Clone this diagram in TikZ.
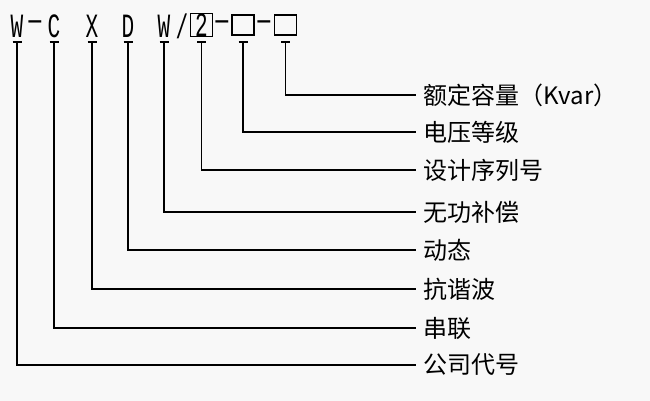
\documentclass[tikz,border=0pt]{standalone}
\usepackage{fontspec}
\newfontfamily\cjk{Noto Sans CJK SC}
\newfontfamily\codefont{Liberation Mono}[FakeStretch=0.62]
\definecolor{sfondo}{HTML}{F8F8F8}

\begin{document}
\begin{tikzpicture}[x=1pt, y=-1pt, line width=1.4pt,
    codice/.style={inner sep=0pt, font=\codefont\fontsize{34}{34}\selectfont},
    casella/.style={draw, line width=1.4pt, minimum width=22pt, minimum height=20pt, inner sep=0pt},
    voce/.style={anchor=west, inner sep=0pt, font=\cjk\fontsize{24}{24}\selectfont}]
        % Sfondo
        \fill[sfondo] (0,0) rectangle (650,401);

        % Codice del modello
        \node[codice] (cW)  at (17,26)  {W};
        \node[codice] (d1)  at (35,26)  {—};
        \node[codice] (cC)  at (54,26)  {C};
        \node[codice] (cX)  at (92,26)  {X};
        \node[codice] (cD)  at (128,26) {D};
        \node[codice] (cW2) at (164,26) {W};
        \node[codice] (sl)  at (182,26) {/};
        \node[casella, codice] (b1) at (201.5,25) {2};
        \node[codice] (d2)  at (222,26) {—};
        \node[casella] (b2) at (243,25) {};
        \node[codice] (d3)  at (264,26) {—};
        \node[casella] (b3) at (285.5,25) {};

        % Voci
        \foreach \nome/\y/\testo in {v8/95/额定容量（Kvar）, v7/132/电压等级, v6/170/设计序列号,
                v5/212/无功补偿, v4/250/动态, v3/289/抗谐波, v2/328/串联, v1/365/公司代号}
            \node[voce] (\nome) at (423,\y) {\testo};

        % Collegamenti
        \foreach \c/\v in {cW/v1, cC/v2, cX/v3, cD/v4, cW2/v5, b1/v6, b2/v7, b3/v8} {
            \coordinate (t\c) at (\c |- 0,42);
            \draw ([xshift=-4.5pt]t\c) -- ([xshift=4.5pt]t\c);
            \draw (t\c) |- ([xshift=-7pt]\v.west);
        }
    \end{tikzpicture}
\end{document}
